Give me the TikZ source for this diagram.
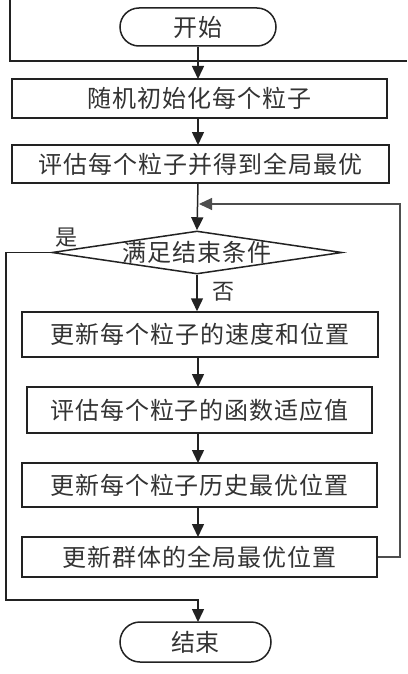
\documentclass[tikz,border=0pt]{standalone}
\usepackage{fontspec}
\newfontfamily\cjk[LetterSpace=4]{Noto Sans CJK SC}
\usetikzlibrary{shapes.geometric,shapes.misc,arrows.meta}
\definecolor{ink}{HTML}{222222}
\definecolor{txt}{HTML}{333333}
\begin{document}
\begin{tikzpicture}[x=1pt,y=-1pt,
  every node/.style={font=\cjk\fontsize{24}{28}\selectfont, text=txt},
  procbox/.style={draw=ink, line width=1.5pt, rectangle, inner sep=0pt},
  term/.style={draw=ink, line width=1.5pt, rounded rectangle, inner sep=0pt},
  cond/.style={draw=ink, line width=1.5pt, diamond, inner sep=0pt},
  flow/.style={draw=ink, line width=1.5pt, -{Triangle[length=13pt,width=12pt]}},
  back/.style={draw=ink!80, line width=1.1pt, -{Triangle[length=13pt,width=12pt]}},
  tag/.style={font=\cjk\fontsize{22}{26}\selectfont, inner sep=0pt}]
\useasboundingbox (0,0) rectangle (407,674);
\fill[white] (0,0) rectangle (407,674);
% frame fragment at top
\draw[ink, line width=1.5pt] (10,0) -- (10,61) -- (407,61);
% nodes
\node[term, minimum width=156pt, minimum height=38pt] (start) at (198,27) {开始};
\node[procbox, minimum width=375pt, minimum height=39pt] (b1) at (199.5,98.5) {随机初始化每个粒子};
\node[procbox, minimum width=377pt, minimum height=38pt] (b2) at (200.5,164) {评估每个粒子并得到全局最优};
\node[cond, minimum width=290pt, minimum height=43pt] (d) at (197,252.5) {\makebox[0pt]{满足结束条件}};
\node[procbox, minimum width=356pt, minimum height=45pt] (b3) at (200,334.5) {更新每个粒子的速度和位置};
\node[procbox, minimum width=345pt, minimum height=46pt] (b4) at (199.5,410) {评估每个粒子的函数适应值};
\node[procbox, minimum width=355pt, minimum height=44pt] (b5) at (199.5,485) {更新每个粒子历史最优位置};
\node[procbox, minimum width=355pt, minimum height=40pt] (b6) at (199.5,557) {更新群体的全局最优位置};
\node[term, minimum width=151pt, minimum height=40pt] (end) at (195.5,642) {结束};
\node[tag] (yes) at (66,238) {是};
\node[tag] (no) at (223,292) {否};
% coordinates
\coordinate (merge) at (199,204);
\coordinate (fbr) at (400,557);
\coordinate (yl) at (6,252.5);
\coordinate (yb) at (6,600);
% connectors
\draw[flow] (start.south -| 198,0) -- (198,79);
\draw[flow] (198,118) -- (198,145);
\draw[flow] (198,183) -- (d.north);
\draw[flow] (d.south) -- (d.south |- b3.north);
\draw[flow] (198,357) -- (198,387);
\draw[flow] (198,433) -- (198,463);
\draw[flow] (198,507) -- (198,537);
\draw[back] (b6.east) -- (fbr) |- (merge);
\draw[flow] (d.west) -- (yl) -- (yb) -- (198,600) -- (198,622);
\end{tikzpicture}
\end{document}
